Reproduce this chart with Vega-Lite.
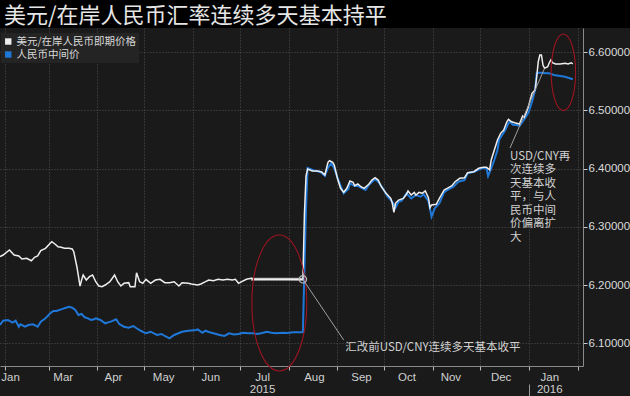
{
  "$schema": "https://vega.github.io/schema/vega-lite/v6.json",
  "background": "#1a1a1a",
  "padding": 0,
  "spacing": 0,
  "bounds": "flush",
  "config": {"view": {"stroke": null}, "font": "Noto Sans CJK SC"},
  "resolve": {"scale": {"color": "independent"}, "legend": {"color": "independent"}},
  "datasets": {
    "rates": [
      {"date": "2015-01-29", "series": "fix", "value": 6.1317},
      {"date": "2015-01-31", "series": "fix", "value": 6.1391},
      {"date": "2015-02-03", "series": "fix", "value": 6.1403},
      {"date": "2015-02-06", "series": "fix", "value": 6.1357},
      {"date": "2015-02-08", "series": "fix", "value": 6.1391},
      {"date": "2015-02-10", "series": "fix", "value": 6.1288},
      {"date": "2015-02-11", "series": "fix", "value": 6.1329},
      {"date": "2015-02-14", "series": "fix", "value": 6.1288},
      {"date": "2015-02-16", "series": "fix", "value": 6.1317},
      {"date": "2015-02-19", "series": "fix", "value": 6.1329},
      {"date": "2015-02-22", "series": "fix", "value": 6.1288},
      {"date": "2015-02-24", "series": "fix", "value": 6.1374},
      {"date": "2015-02-27", "series": "fix", "value": 6.1432},
      {"date": "2015-03-02", "series": "fix", "value": 6.1518},
      {"date": "2015-03-04", "series": "fix", "value": 6.1557},
      {"date": "2015-03-06", "series": "fix", "value": 6.1557},
      {"date": "2015-03-09", "series": "fix", "value": 6.1586},
      {"date": "2015-03-12", "series": "fix", "value": 6.1614},
      {"date": "2015-03-14", "series": "fix", "value": 6.1631},
      {"date": "2015-03-16", "series": "fix", "value": 6.1614},
      {"date": "2015-03-18", "series": "fix", "value": 6.1575},
      {"date": "2015-03-20", "series": "fix", "value": 6.1489},
      {"date": "2015-03-22", "series": "fix", "value": 6.1506},
      {"date": "2015-03-24", "series": "fix", "value": 6.1449},
      {"date": "2015-03-26", "series": "fix", "value": 6.1432},
      {"date": "2015-03-28", "series": "fix", "value": 6.1403},
      {"date": "2015-03-30", "series": "fix", "value": 6.1415},
      {"date": "2015-03-31", "series": "fix", "value": 6.1432},
      {"date": "2015-04-03", "series": "fix", "value": 6.1403},
      {"date": "2015-04-06", "series": "fix", "value": 6.1346},
      {"date": "2015-04-08", "series": "fix", "value": 6.1363},
      {"date": "2015-04-10", "series": "fix", "value": 6.1380},
      {"date": "2015-04-13", "series": "fix", "value": 6.1415},
      {"date": "2015-04-15", "series": "fix", "value": 6.1334},
      {"date": "2015-04-18", "series": "fix", "value": 6.1288},
      {"date": "2015-04-21", "series": "fix", "value": 6.1271},
      {"date": "2015-04-24", "series": "fix", "value": 6.1300},
      {"date": "2015-04-26", "series": "fix", "value": 6.1261},
      {"date": "2015-04-29", "series": "fix", "value": 6.1214},
      {"date": "2015-05-02", "series": "fix", "value": 6.1175},
      {"date": "2015-05-05", "series": "fix", "value": 6.1202},
      {"date": "2015-05-09", "series": "fix", "value": 6.1146},
      {"date": "2015-05-12", "series": "fix", "value": 6.1163},
      {"date": "2015-05-14", "series": "fix", "value": 6.1129},
      {"date": "2015-05-17", "series": "fix", "value": 6.1089},
      {"date": "2015-05-20", "series": "fix", "value": 6.1146},
      {"date": "2015-05-25", "series": "fix", "value": 6.1202},
      {"date": "2015-05-29", "series": "fix", "value": 6.1219},
      {"date": "2015-06-03", "series": "fix", "value": 6.1231},
      {"date": "2015-06-04", "series": "fix", "value": 6.1243},
      {"date": "2015-06-07", "series": "fix", "value": 6.1185},
      {"date": "2015-06-09", "series": "fix", "value": 6.1219},
      {"date": "2015-06-11", "series": "fix", "value": 6.1197},
      {"date": "2015-06-14", "series": "fix", "value": 6.1175},
      {"date": "2015-06-18", "series": "fix", "value": 6.1146},
      {"date": "2015-06-21", "series": "fix", "value": 6.1129},
      {"date": "2015-06-24", "series": "fix", "value": 6.1175},
      {"date": "2015-06-27", "series": "fix", "value": 6.1154},
      {"date": "2015-06-30", "series": "fix", "value": 6.1163},
      {"date": "2015-07-03", "series": "fix", "value": 6.1185},
      {"date": "2015-07-06", "series": "fix", "value": 6.1175},
      {"date": "2015-07-09", "series": "fix", "value": 6.1175},
      {"date": "2015-07-12", "series": "fix", "value": 6.1163},
      {"date": "2015-07-15", "series": "fix", "value": 6.1180},
      {"date": "2015-07-18", "series": "fix", "value": 6.1202},
      {"date": "2015-07-21", "series": "fix", "value": 6.1185},
      {"date": "2015-07-24", "series": "fix", "value": 6.1175},
      {"date": "2015-07-28", "series": "fix", "value": 6.1185},
      {"date": "2015-07-31", "series": "fix", "value": 6.1180},
      {"date": "2015-08-04", "series": "fix", "value": 6.1192},
      {"date": "2015-08-10", "series": "fix", "value": 6.1192},
      {"date": "2015-08-11", "series": "fix", "value": 6.2298},
      {"date": "2015-08-12", "series": "fix", "value": 6.3306},
      {"date": "2015-08-13", "series": "fix", "value": 6.4010},
      {"date": "2015-08-17", "series": "fix", "value": 6.3967},
      {"date": "2015-08-21", "series": "fix", "value": 6.3947},
      {"date": "2015-08-24", "series": "fix", "value": 6.3878},
      {"date": "2015-08-26", "series": "fix", "value": 6.4015},
      {"date": "2015-08-28", "series": "fix", "value": 6.4091},
      {"date": "2015-08-30", "series": "fix", "value": 6.4005},
      {"date": "2015-09-02", "series": "fix", "value": 6.3775},
      {"date": "2015-09-05", "series": "fix", "value": 6.3576},
      {"date": "2015-09-08", "series": "fix", "value": 6.3650},
      {"date": "2015-09-09", "series": "fix", "value": 6.3748},
      {"date": "2015-09-12", "series": "fix", "value": 6.3701},
      {"date": "2015-09-14", "series": "fix", "value": 6.3707},
      {"date": "2015-09-16", "series": "fix", "value": 6.3672},
      {"date": "2015-09-19", "series": "fix", "value": 6.3633},
      {"date": "2015-09-21", "series": "fix", "value": 6.3719},
      {"date": "2015-09-25", "series": "fix", "value": 6.3822},
      {"date": "2015-09-27", "series": "fix", "value": 6.3775},
      {"date": "2015-09-30", "series": "fix", "value": 6.3662},
      {"date": "2015-10-03", "series": "fix", "value": 6.3518},
      {"date": "2015-10-06", "series": "fix", "value": 6.3432},
      {"date": "2015-10-08", "series": "fix", "value": 6.3329},
      {"date": "2015-10-10", "series": "fix", "value": 6.3432},
      {"date": "2015-10-12", "series": "fix", "value": 6.3449},
      {"date": "2015-10-15", "series": "fix", "value": 6.3576},
      {"date": "2015-10-18", "series": "fix", "value": 6.3490},
      {"date": "2015-10-21", "series": "fix", "value": 6.3547},
      {"date": "2015-10-24", "series": "fix", "value": 6.3518},
      {"date": "2015-10-26", "series": "fix", "value": 6.3559},
      {"date": "2015-10-29", "series": "fix", "value": 6.3444},
      {"date": "2015-10-31", "series": "fix", "value": 6.3175},
      {"date": "2015-11-02", "series": "fix", "value": 6.3319},
      {"date": "2015-11-05", "series": "fix", "value": 6.3405},
      {"date": "2015-11-08", "series": "fix", "value": 6.3593},
      {"date": "2015-11-10", "series": "fix", "value": 6.3633},
      {"date": "2015-11-14", "series": "fix", "value": 6.3689},
      {"date": "2015-11-17", "series": "fix", "value": 6.3775},
      {"date": "2015-11-21", "series": "fix", "value": 6.3804},
      {"date": "2015-11-23", "series": "fix", "value": 6.3919},
      {"date": "2015-11-27", "series": "fix", "value": 6.3947},
      {"date": "2015-12-02", "series": "fix", "value": 6.4005},
      {"date": "2015-12-05", "series": "fix", "value": 6.4005},
      {"date": "2015-12-06", "series": "fix", "value": 6.3873},
      {"date": "2015-12-08", "series": "fix", "value": 6.4005},
      {"date": "2015-12-10", "series": "fix", "value": 6.4147},
      {"date": "2015-12-12", "series": "fix", "value": 6.4319},
      {"date": "2015-12-13", "series": "fix", "value": 6.4491},
      {"date": "2015-12-15", "series": "fix", "value": 6.4576},
      {"date": "2015-12-17", "series": "fix", "value": 6.4662},
      {"date": "2015-12-19", "series": "fix", "value": 6.4777},
      {"date": "2015-12-20", "series": "fix", "value": 6.4804},
      {"date": "2015-12-22", "series": "fix", "value": 6.4748},
      {"date": "2015-12-24", "series": "fix", "value": 6.4748},
      {"date": "2015-12-26", "series": "fix", "value": 6.4731},
      {"date": "2015-12-28", "series": "fix", "value": 6.4804},
      {"date": "2015-12-30", "series": "fix", "value": 6.4880},
      {"date": "2016-01-01", "series": "fix", "value": 6.4976},
      {"date": "2016-01-03", "series": "fix", "value": 6.5147},
      {"date": "2016-01-05", "series": "fix", "value": 6.5348},
      {"date": "2016-01-06", "series": "fix", "value": 6.5635},
      {"date": "2016-01-07", "series": "fix", "value": 6.5645},
      {"date": "2016-01-09", "series": "fix", "value": 6.5645},
      {"date": "2016-01-12", "series": "fix", "value": 6.5635},
      {"date": "2016-01-14", "series": "fix", "value": 6.5635},
      {"date": "2016-01-17", "series": "fix", "value": 6.5605},
      {"date": "2016-01-21", "series": "fix", "value": 6.5588},
      {"date": "2016-01-24", "series": "fix", "value": 6.5576},
      {"date": "2016-01-27", "series": "fix", "value": 6.5549},
      {"date": "2016-01-29", "series": "fix", "value": 6.5532},
      {"date": "2015-01-29", "series": "spot", "value": 6.2489},
      {"date": "2015-01-31", "series": "spot", "value": 6.2518},
      {"date": "2015-02-04", "series": "spot", "value": 6.2604},
      {"date": "2015-02-07", "series": "spot", "value": 6.2518},
      {"date": "2015-02-10", "series": "spot", "value": 6.2501},
      {"date": "2015-02-12", "series": "spot", "value": 6.2449},
      {"date": "2015-02-15", "series": "spot", "value": 6.2461},
      {"date": "2015-02-18", "series": "spot", "value": 6.2420},
      {"date": "2015-02-20", "series": "spot", "value": 6.2478},
      {"date": "2015-02-22", "series": "spot", "value": 6.2501},
      {"date": "2015-02-24", "series": "spot", "value": 6.2592},
      {"date": "2015-02-27", "series": "spot", "value": 6.2633},
      {"date": "2015-03-02", "series": "spot", "value": 6.2719},
      {"date": "2015-03-03", "series": "spot", "value": 6.2746},
      {"date": "2015-03-05", "series": "spot", "value": 6.2707},
      {"date": "2015-03-07", "series": "spot", "value": 6.2660},
      {"date": "2015-03-09", "series": "spot", "value": 6.2650},
      {"date": "2015-03-11", "series": "spot", "value": 6.2633},
      {"date": "2015-03-14", "series": "spot", "value": 6.2633},
      {"date": "2015-03-16", "series": "spot", "value": 6.2621},
      {"date": "2015-03-17", "series": "spot", "value": 6.2574},
      {"date": "2015-03-19", "series": "spot", "value": 6.2317},
      {"date": "2015-03-21", "series": "spot", "value": 6.1986},
      {"date": "2015-03-22", "series": "spot", "value": 6.2089},
      {"date": "2015-03-23", "series": "spot", "value": 6.2175},
      {"date": "2015-03-25", "series": "spot", "value": 6.2089},
      {"date": "2015-03-27", "series": "spot", "value": 6.2146},
      {"date": "2015-03-29", "series": "spot", "value": 6.2175},
      {"date": "2015-03-31", "series": "spot", "value": 6.2060},
      {"date": "2015-04-02", "series": "spot", "value": 6.1986},
      {"date": "2015-04-04", "series": "spot", "value": 6.1974},
      {"date": "2015-04-06", "series": "spot", "value": 6.2003},
      {"date": "2015-04-09", "series": "spot", "value": 6.2060},
      {"date": "2015-04-12", "series": "spot", "value": 6.2175},
      {"date": "2015-04-14", "series": "spot", "value": 6.2060},
      {"date": "2015-04-16", "series": "spot", "value": 6.1986},
      {"date": "2015-04-18", "series": "spot", "value": 6.2032},
      {"date": "2015-04-21", "series": "spot", "value": 6.2043},
      {"date": "2015-04-22", "series": "spot", "value": 6.1974},
      {"date": "2015-04-25", "series": "spot", "value": 6.1974},
      {"date": "2015-04-26", "series": "spot", "value": 6.2214},
      {"date": "2015-04-28", "series": "spot", "value": 6.2060},
      {"date": "2015-04-30", "series": "spot", "value": 6.2032},
      {"date": "2015-05-02", "series": "spot", "value": 6.2101},
      {"date": "2015-05-05", "series": "spot", "value": 6.2032},
      {"date": "2015-05-08", "series": "spot", "value": 6.2089},
      {"date": "2015-05-11", "series": "spot", "value": 6.2101},
      {"date": "2015-05-14", "series": "spot", "value": 6.2043},
      {"date": "2015-05-17", "series": "spot", "value": 6.2043},
      {"date": "2015-05-20", "series": "spot", "value": 6.2060},
      {"date": "2015-05-23", "series": "spot", "value": 6.1986},
      {"date": "2015-05-25", "series": "spot", "value": 6.2043},
      {"date": "2015-05-29", "series": "spot", "value": 6.2032},
      {"date": "2015-05-31", "series": "spot", "value": 6.2020},
      {"date": "2015-06-04", "series": "spot", "value": 6.2003},
      {"date": "2015-06-06", "series": "spot", "value": 6.2020},
      {"date": "2015-06-09", "series": "spot", "value": 6.2060},
      {"date": "2015-06-11", "series": "spot", "value": 6.2089},
      {"date": "2015-06-14", "series": "spot", "value": 6.2077},
      {"date": "2015-06-17", "series": "spot", "value": 6.2101},
      {"date": "2015-06-20", "series": "spot", "value": 6.2089},
      {"date": "2015-06-23", "series": "spot", "value": 6.2101},
      {"date": "2015-06-26", "series": "spot", "value": 6.2089},
      {"date": "2015-06-28", "series": "spot", "value": 6.2101},
      {"date": "2015-06-30", "series": "spot", "value": 6.2032},
      {"date": "2015-07-02", "series": "spot", "value": 6.2060},
      {"date": "2015-07-05", "series": "spot", "value": 6.2101},
      {"date": "2015-07-08", "series": "spot", "value": 6.2118},
      {"date": "2015-07-10", "series": "spot", "value": 6.2101},
      {"date": "2015-07-20", "series": "spot", "value": 6.2100},
      {"date": "2015-07-31", "series": "spot", "value": 6.2101},
      {"date": "2015-08-10", "series": "spot", "value": 6.2097},
      {"date": "2015-08-11", "series": "spot", "value": 6.3231},
      {"date": "2015-08-12", "series": "spot", "value": 6.3870},
      {"date": "2015-08-13", "series": "spot", "value": 6.3993},
      {"date": "2015-08-16", "series": "spot", "value": 6.3959},
      {"date": "2015-08-19", "series": "spot", "value": 6.3959},
      {"date": "2015-08-22", "series": "spot", "value": 6.3942},
      {"date": "2015-08-24", "series": "spot", "value": 6.3890},
      {"date": "2015-08-26", "series": "spot", "value": 6.4108},
      {"date": "2015-08-27", "series": "spot", "value": 6.4135},
      {"date": "2015-08-29", "series": "spot", "value": 6.4108},
      {"date": "2015-08-30", "series": "spot", "value": 6.4062},
      {"date": "2015-09-01", "series": "spot", "value": 6.3834},
      {"date": "2015-09-03", "series": "spot", "value": 6.3662},
      {"date": "2015-09-05", "series": "spot", "value": 6.3593},
      {"date": "2015-09-07", "series": "spot", "value": 6.3662},
      {"date": "2015-09-09", "series": "spot", "value": 6.3787},
      {"date": "2015-09-11", "series": "spot", "value": 6.3765},
      {"date": "2015-09-12", "series": "spot", "value": 6.3707},
      {"date": "2015-09-14", "series": "spot", "value": 6.3736},
      {"date": "2015-09-16", "series": "spot", "value": 6.3689},
      {"date": "2015-09-18", "series": "spot", "value": 6.3662},
      {"date": "2015-09-21", "series": "spot", "value": 6.3731},
      {"date": "2015-09-23", "series": "spot", "value": 6.3804},
      {"date": "2015-09-25", "series": "spot", "value": 6.3844},
      {"date": "2015-09-27", "series": "spot", "value": 6.3804},
      {"date": "2015-09-29", "series": "spot", "value": 6.3689},
      {"date": "2015-10-02", "series": "spot", "value": 6.3576},
      {"date": "2015-10-05", "series": "spot", "value": 6.3490},
      {"date": "2015-10-06", "series": "spot", "value": 6.3405},
      {"date": "2015-10-07", "series": "spot", "value": 6.3250},
      {"date": "2015-10-08", "series": "spot", "value": 6.3405},
      {"date": "2015-10-10", "series": "spot", "value": 6.3461},
      {"date": "2015-10-13", "series": "spot", "value": 6.3490},
      {"date": "2015-10-15", "series": "spot", "value": 6.3559},
      {"date": "2015-10-16", "series": "spot", "value": 6.3616},
      {"date": "2015-10-18", "series": "spot", "value": 6.3547},
      {"date": "2015-10-20", "series": "spot", "value": 6.3593},
      {"date": "2015-10-21", "series": "spot", "value": 6.3547},
      {"date": "2015-10-23", "series": "spot", "value": 6.3593},
      {"date": "2015-10-25", "series": "spot", "value": 6.3576},
      {"date": "2015-10-27", "series": "spot", "value": 6.3616},
      {"date": "2015-10-29", "series": "spot", "value": 6.3501},
      {"date": "2015-10-30", "series": "spot", "value": 6.3329},
      {"date": "2015-10-31", "series": "spot", "value": 6.3376},
      {"date": "2015-11-03", "series": "spot", "value": 6.3388},
      {"date": "2015-11-05", "series": "spot", "value": 6.3490},
      {"date": "2015-11-08", "series": "spot", "value": 6.3633},
      {"date": "2015-11-10", "series": "spot", "value": 6.3662},
      {"date": "2015-11-13", "series": "spot", "value": 6.3707},
      {"date": "2015-11-15", "series": "spot", "value": 6.3775},
      {"date": "2015-11-18", "series": "spot", "value": 6.3834},
      {"date": "2015-11-21", "series": "spot", "value": 6.3844},
      {"date": "2015-11-23", "series": "spot", "value": 6.3930},
      {"date": "2015-11-27", "series": "spot", "value": 6.3947},
      {"date": "2015-11-30", "series": "spot", "value": 6.4005},
      {"date": "2015-12-03", "series": "spot", "value": 6.4022},
      {"date": "2015-12-05", "series": "spot", "value": 6.4022},
      {"date": "2015-12-07", "series": "spot", "value": 6.3980},
      {"date": "2015-12-08", "series": "spot", "value": 6.4147},
      {"date": "2015-12-10", "series": "spot", "value": 6.4319},
      {"date": "2015-12-12", "series": "spot", "value": 6.4491},
      {"date": "2015-12-14", "series": "spot", "value": 6.4605},
      {"date": "2015-12-16", "series": "spot", "value": 6.4662},
      {"date": "2015-12-18", "series": "spot", "value": 6.4804},
      {"date": "2015-12-19", "series": "spot", "value": 6.4846},
      {"date": "2015-12-21", "series": "spot", "value": 6.4804},
      {"date": "2015-12-23", "series": "spot", "value": 6.4787},
      {"date": "2015-12-26", "series": "spot", "value": 6.4765},
      {"date": "2015-12-27", "series": "spot", "value": 6.4834},
      {"date": "2015-12-28", "series": "spot", "value": 6.4902},
      {"date": "2015-12-29", "series": "spot", "value": 6.4877},
      {"date": "2015-12-31", "series": "spot", "value": 6.5005},
      {"date": "2016-01-01", "series": "spot", "value": 6.5091},
      {"date": "2016-01-02", "series": "spot", "value": 6.5189},
      {"date": "2016-01-03", "series": "spot", "value": 6.5292},
      {"date": "2016-01-05", "series": "spot", "value": 6.5348},
      {"date": "2016-01-06", "series": "spot", "value": 6.5576},
      {"date": "2016-01-07", "series": "spot", "value": 6.5834},
      {"date": "2016-01-08", "series": "spot", "value": 6.5949},
      {"date": "2016-01-09", "series": "spot", "value": 6.5949},
      {"date": "2016-01-10", "series": "spot", "value": 6.5777},
      {"date": "2016-01-11", "series": "spot", "value": 6.5720},
      {"date": "2016-01-13", "series": "spot", "value": 6.5748},
      {"date": "2016-01-14", "series": "spot", "value": 6.5816},
      {"date": "2016-01-15", "series": "spot", "value": 6.5863},
      {"date": "2016-01-16", "series": "spot", "value": 6.5816},
      {"date": "2016-01-18", "series": "spot", "value": 6.5794},
      {"date": "2016-01-21", "series": "spot", "value": 6.5794},
      {"date": "2016-01-24", "series": "spot", "value": 6.5806},
      {"date": "2016-01-26", "series": "spot", "value": 6.5794},
      {"date": "2016-01-28", "series": "spot", "value": 6.5816},
      {"date": "2016-01-29", "series": "spot", "value": 6.5794}
    ]
  },
  "vconcat": [
    {
      "width": 630,
      "height": 28,
      "view": {"fill": "#000000", "stroke": null},
      "data": {"values": [{"title": "美元/在岸人民币汇率连续多天基本持平"}]},
      "mark": {"type": "text", "align": "left", "baseline": "middle", "dx": 4, "dy": 2, "fontSize": 22, "font": "Noto Sans CJK SC", "color": "#e6e6e6"},
      "encoding": {
        "x": {"datum": 0, "type": "quantitative", "scale": {"domain": [0, 1]}, "axis": null},
        "text": {"field": "title"}
      }
    },
    {
      "width": 583,
      "height": 338,
      "view": {"stroke": null},
      "resolve": {"axis": {"x": "independent", "y": "independent"}},
      "layer": [
        {
          "data": {"values": [{"start": "2015-07-08", "end": "2015-08-10", "level": 6.2101}]},
          "mark": {"type": "rule", "color": "#a8a8a8", "strokeWidth": 3},
          "encoding": {
            "x": {"field": "start", "type": "temporal", "scale": {"type": "utc", "domain": [{"year": 2015, "month": 1, "date": 29, "utc": true}, {"year": 2016, "month": 2, "date": 4, "hours": 12, "utc": true}]},
              "axis": {"orient": "bottom", "values": [{"year": 2016, "month": 1, "date": 1, "utc": true}], "labels": false, "domain": false, "grid": false, "ticks": true, "tickSize": 12, "offset": 18, "tickColor": "#9a9a9a", "title": null}},
            "x2": {"field": "end"},
            "y": {"field": "level", "type": "quantitative", "scale": {"domain": [6.0614, 6.6412], "zero": false, "nice": false}, "axis": null}
          }
        },
        {
          "data": {"name": "rates"},
          "transform": [{"filter": "datum.series == 'fix'"}],
          "mark": {"type": "line", "strokeWidth": 2, "clip": true},
          "encoding": {
            "x": {"field": "date", "type": "temporal", "scale": {"type": "utc", "domain": [{"year": 2015, "month": 1, "date": 29, "utc": true}, {"year": 2016, "month": 2, "date": 4, "hours": 12, "utc": true}]},
              "axis": {"orient": "bottom", "title": null, "labels": false, "ticks": true, "tickSize": 4, "tickColor": "#bbbbbb", "domain": true, "domainColor": "#8a8a8a", "grid": true, "gridColor": "#505050", "gridDash": [1, 2],
                "values": [
                  {"year": 2015, "month": 2, "date": 1, "utc": true},
                  {"year": 2015, "month": 3, "date": 1, "utc": true},
                  {"year": 2015, "month": 4, "date": 1, "utc": true},
                  {"year": 2015, "month": 5, "date": 1, "utc": true},
                  {"year": 2015, "month": 6, "date": 1, "utc": true},
                  {"year": 2015, "month": 7, "date": 1, "utc": true},
                  {"year": 2015, "month": 8, "date": 1, "utc": true},
                  {"year": 2015, "month": 9, "date": 1, "utc": true},
                  {"year": 2015, "month": 10, "date": 1, "utc": true},
                  {"year": 2015, "month": 11, "date": 1, "utc": true},
                  {"year": 2015, "month": 12, "date": 1, "utc": true},
                  {"year": 2016, "month": 1, "date": 1, "utc": true},
                  {"year": 2016, "month": 2, "date": 1, "utc": true}
                ]}},
            "y": {"field": "value", "type": "quantitative", "scale": {"domain": [6.0614, 6.6412], "zero": false, "nice": false},
              "axis": {"orient": "right", "title": null, "values": [6.1, 6.2, 6.3, 6.4, 6.5, 6.6], "format": ".5f", "labelColor": "#dcdcdc", "labelFont": "Liberation Sans", "labelFontSize": 11.5, "labelPadding": 1, "tickSize": 4, "tickColor": "#cccccc", "domain": true, "domainColor": "#8a8a8a", "grid": true, "gridColor": "#505050", "gridDash": [1, 2]}},
            "color": {"field": "series", "type": "nominal", "scale": {"domain": ["spot", "fix"], "range": ["#eeeeee", "#1f78d8"]},
              "legend": {"orient": "none", "legendX": 1, "legendY": 5, "title": null, "direction": "vertical", "symbolType": "square", "symbolSize": 2, "symbolStrokeWidth": 5, "clipHeight": 13, "labelExpr": "datum.label == 'spot' ? '美元/在岸人民币即期价格' : '人民币中间价'", "labelColor": "#d8d8d8", "labelFont": "Noto Sans CJK SC", "labelFontSize": 10.5, "labelOffset": 3, "fillColor": "#242424", "padding": 2, "rowPadding": 0}}
          }
        },
        {
          "data": {"name": "rates"},
          "transform": [{"filter": "datum.series == 'spot'"}],
          "mark": {"type": "line", "strokeWidth": 1.5, "clip": true},
          "encoding": {
            "x": {"field": "date", "type": "temporal", "scale": {"type": "utc", "domain": [{"year": 2015, "month": 1, "date": 29, "utc": true}, {"year": 2016, "month": 2, "date": 4, "hours": 12, "utc": true}]}, "axis": null},
            "y": {"field": "value", "type": "quantitative", "scale": {"domain": [6.0614, 6.6412], "zero": false, "nice": false}, "axis": null},
            "color": {"field": "series", "type": "nominal", "scale": {"domain": ["spot", "fix"], "range": ["#eeeeee", "#1f78d8"]}, "legend": null}
          }
        },
        {
          "data": {"values": [{"date": "2015-07-26", "value": 6.1695}]},
          "mark": {"type": "point", "shape": "M0,-1A0.404,1 0 1,1 0,1A0.404,1 0 1,1 0,-1Z", "size": 18496, "filled": false, "color": "#9e1421", "strokeWidth": 1.1, "opacity": 1},
          "encoding": {
            "x": {"field": "date", "type": "temporal", "scale": {"type": "utc", "domain": [{"year": 2015, "month": 1, "date": 29, "utc": true}, {"year": 2016, "month": 2, "date": 4, "hours": 12, "utc": true}]},
              "axis": {"orient": "bottom", "title": null, "ticks": false, "tickSize": 0, "domain": false, "grid": false, "labelColor": "#d0d0d0", "labelFont": "Liberation Sans", "labelFontSize": 11.5, "labelPadding": 5, "labelLineHeight": 12, "labelOverlap": false, "labelFlush": false, "labelBound": false,
                "labelAlign": {"condition": {"test": "utcyear(datum.value) == 2015 && utcmonth(datum.value) == 0", "value": "left"}, "value": "center"},
                "labelExpr": "utcyear(datum.value) == 2016 ? ['Jan', '2016'] : (utcmonth(datum.value) == 6 ? ['Jul', '2015'] : utcFormat(datum.value - 432000000, '%b'))",
                "values": [
                  {"year": 2015, "month": 1, "date": 29, "hours": 12, "utc": true},
                  {"year": 2015, "month": 3, "date": 10, "utc": true},
                  {"year": 2015, "month": 4, "date": 11, "utc": true},
                  {"year": 2015, "month": 5, "date": 13, "utc": true},
                  {"year": 2015, "month": 6, "date": 12, "utc": true},
                  {"year": 2015, "month": 7, "date": 15, "utc": true},
                  {"year": 2015, "month": 8, "date": 17, "utc": true},
                  {"year": 2015, "month": 9, "date": 16, "utc": true},
                  {"year": 2015, "month": 10, "date": 15, "utc": true},
                  {"year": 2015, "month": 11, "date": 12, "utc": true},
                  {"year": 2015, "month": 12, "date": 14, "utc": true},
                  {"year": 2016, "month": 1, "date": 14, "utc": true}
                ]}},
            "y": {"field": "value", "type": "quantitative", "scale": {"domain": [6.0614, 6.6412], "zero": false, "nice": false}, "axis": null}
          }
        },
        {
          "data": {"values": [{"date": "2016-01-23", "value": 6.5652}]},
          "mark": {"type": "point", "shape": "M0,-1A0.319,1 0 1,1 0,1A0.319,1 0 1,1 0,-1Z", "size": 5868, "filled": false, "color": "#9e1421", "strokeWidth": 1.1, "opacity": 1},
          "encoding": {
            "x": {"field": "date", "type": "temporal", "scale": {"type": "utc", "domain": [{"year": 2015, "month": 1, "date": 29, "utc": true}, {"year": 2016, "month": 2, "date": 4, "hours": 12, "utc": true}]}, "axis": null},
            "y": {"field": "value", "type": "quantitative", "scale": {"domain": [6.0614, 6.6412], "zero": false, "nice": false}, "axis": null}
          }
        },
        {
          "data": {"values": [{"date": "2015-08-10", "value": 6.2101}]},
          "mark": {"type": "point", "filled": false, "size": 55, "color": "#bbbbbb", "strokeWidth": 1.2, "opacity": 1},
          "encoding": {
            "x": {"field": "date", "type": "temporal", "scale": {"type": "utc", "domain": [{"year": 2015, "month": 1, "date": 29, "utc": true}, {"year": 2016, "month": 2, "date": 4, "hours": 12, "utc": true}]}, "axis": null},
            "y": {"field": "value", "type": "quantitative", "scale": {"domain": [6.0614, 6.6412], "zero": false, "nice": false}, "axis": null}
          }
        },
        {
          "data": {"values": [
            {"d1": "2015-08-10", "d2": "2015-09-05", "v1": 6.2101, "v2": 6.1060},
            {"d1": "2015-12-20", "d2": "2016-01-11", "v1": 6.4353, "v2": 6.5720}
          ]},
          "mark": {"type": "rule", "color": "#a0a0a0", "strokeWidth": 1},
          "encoding": {
            "x": {"field": "d1", "type": "temporal", "scale": {"type": "utc", "domain": [{"year": 2015, "month": 1, "date": 29, "utc": true}, {"year": 2016, "month": 2, "date": 4, "hours": 12, "utc": true}]}, "axis": null},
            "x2": {"field": "d2"},
            "y": {"field": "v1", "type": "quantitative", "scale": {"domain": [6.0614, 6.6412], "zero": false, "nice": false}, "axis": null},
            "y2": {"field": "v2"}
          }
        },
        {
          "data": {"values": [
            {"date": "2015-09-06", "value": 6.1026, "label": "汇改前USD/CNY连续多天基本收平"},
            {"date": "2015-12-20", "value": 6.4307, "label": ["USD/CNY再", "次连续多", "天基本收", "平，与人", "民币中间", "价偏离扩", "大"]}
          ]},
          "mark": {"type": "text", "align": "left", "baseline": "top", "fontSize": 11.5, "lineHeight": 13.5, "font": "Noto Sans CJK SC", "color": "#d0d0d0"},
          "encoding": {
            "x": {"field": "date", "type": "temporal", "scale": {"type": "utc", "domain": [{"year": 2015, "month": 1, "date": 29, "utc": true}, {"year": 2016, "month": 2, "date": 4, "hours": 12, "utc": true}]}, "axis": null},
            "y": {"field": "value", "type": "quantitative", "scale": {"domain": [6.0614, 6.6412], "zero": false, "nice": false}, "axis": null},
            "text": {"field": "label"}
          }
        }
      ]
    }
  ]
}
